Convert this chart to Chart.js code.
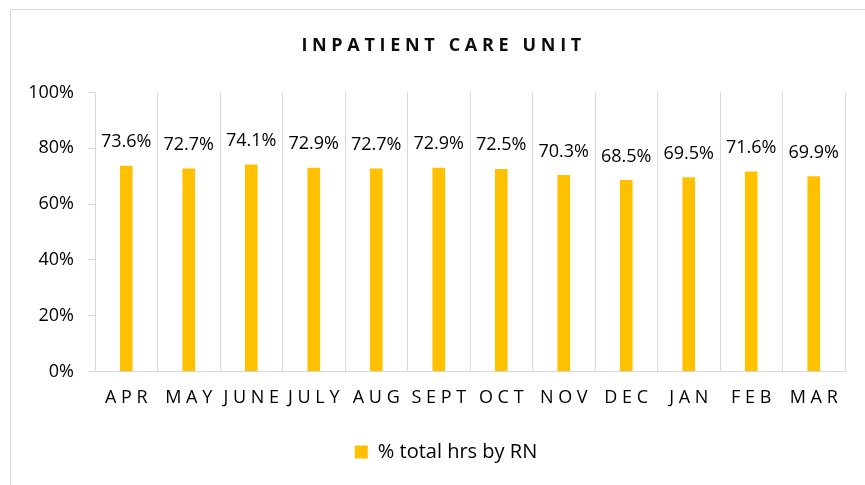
<!DOCTYPE html>
<html>
<head>
<meta charset="utf-8">
<script src="https://cdn.jsdelivr.net/npm/chart.js@4.4.1/dist/chart.umd.min.js"></script>
<style>
    html, body { margin: 0; padding: 0; background: #ffffff; }
    #chartBox { width: 865px; height: 485px; }
</style>
</head>
<body>
<div id="chartBox"><canvas id="bar"></canvas></div>
<script>
/*
        Inpatient care unit - % of total hours worked by RN, per month.
*/

const chartTitle = "INPATIENT CARE UNIT";
const months = ["APR", "MAY", "JUNE", "JULY", "AUG", "SEPT", "OCT", "NOV", "DEC", "JAN", "FEB", "MAR"];
const rnHours = [73.6, 72.7, 74.1, 72.9, 72.7, 72.9, 72.5, 70.3, 68.5, 69.5, 71.6, 69.9];
const seriesName = "% total hrs by RN";
const yTicks = [0, 20, 40, 60, 80, 100];

const gridColor = "#d9d9d9";
const barColor = "#ffc000";
const fontFamily = "'Open Sans', sans-serif";

Chart.defaults.font.family = fontFamily;
Chart.defaults.color = "#000000";

// Spread letters apart, like the spaced caps of the original
function spaced(text, gap) {
    return text.split(" ").map((w) => w.split("").join(gap)).join(gap + gap + gap);
}

// Outer frame of the chart
const framePlugin = {
    id: "frame",
    beforeDraw(chart) {
        const ctx = chart.ctx;
        ctx.save();
        ctx.fillStyle = "#ffffff";
        ctx.fillRect(0, 0, chart.width, chart.height);
        ctx.strokeStyle = gridColor;
        ctx.lineWidth = 1;
        ctx.strokeRect(10.5, 9.5, 900, 600);
        ctx.restore();
    }
};

// Value labels above each bar
const valueLabels = {
    id: "valueLabels",
    afterDatasetsDraw(chart) {
        const ctx = chart.ctx;
        const meta = chart.getDatasetMeta(0);
        ctx.save();
        ctx.font = "18px " + fontFamily;
        ctx.fillStyle = "#000000";
        ctx.textAlign = "center";
        ctx.textBaseline = "middle";
        meta.data.forEach((bar, i) => {
            ctx.fillText(rnHours[i].toFixed(1) + "%", bar.x, bar.y - 24);
        });
        ctx.restore();
    }
};

let barchart = document.getElementById("bar").getContext("2d");

new Chart(barchart, {
    type: "bar",
    plugins: [framePlugin, valueLabels],
    data: {
        labels: months,
        datasets: [
            {
                label: seriesName,
                data: rnHours,
                backgroundColor: barColor,
                barThickness: 12,
            },
        ],
    },
    options: {
        responsive: true,
        maintainAspectRatio: false,
        animation: false,
        layout: {
            // negative right padding + empty right axis: title and legend centre sits right of canvas centre
            padding: { left: 0, right: -27, top: 0, bottom: 13 },
        },
        plugins: {
            title: {
                display: true,
                text: spaced(chartTitle, " ") + "  ",
                font: { size: 18, weight: "bold" },
                color: "#0d0d0d",
                padding: { top: 35, bottom: 36 },
            },
            legend: {
                position: "bottom",
                labels: {
                    boxWidth: 13,
                    boxHeight: 13,
                    padding: 8,
                    font: { size: 20 },
                    color: "#000000",
                },
            },
            tooltip: { enabled: false },
        },
        scales: {
            x: {
                afterFit: (scale) => { scale.height = 62.6; },
                grid: {
                    offset: true,
                    color: gridColor,
                    drawTicks: false,
                },
                border: { color: gridColor },
                ticks: {
                    padding: 16,
                    font: { size: 18 },
                    color: "#000000",
                    maxRotation: 0,
                    autoSkip: false,
                    callback: function (value) {
                        return spaced(this.getLabelForValue(value), " ");
                    },
                },
            },
            y: {
                min: 0,
                max: 100,
                afterFit: (scale) => { scale.width = 95; },
                afterBuildTicks: (scale) => { scale.ticks = yTicks.map((v) => ({ value: v })); },
                grid: {
                    drawOnChartArea: false,
                    drawTicks: true,
                    tickLength: 7,
                    color: gridColor,
                },
                border: { color: gridColor },
                ticks: {
                    padding: 14,
                    font: { size: 18 },
                    color: "#000000",
                    callback: (value) => value + "%",
                },
            },
            yRight: {
                position: "right",
                afterFit: (scale) => { scale.width = 47; },
                grid: { display: false },
                border: { display: false },
                ticks: { display: false },
            },
        },
    },
});
</script>
</body>
</html>
